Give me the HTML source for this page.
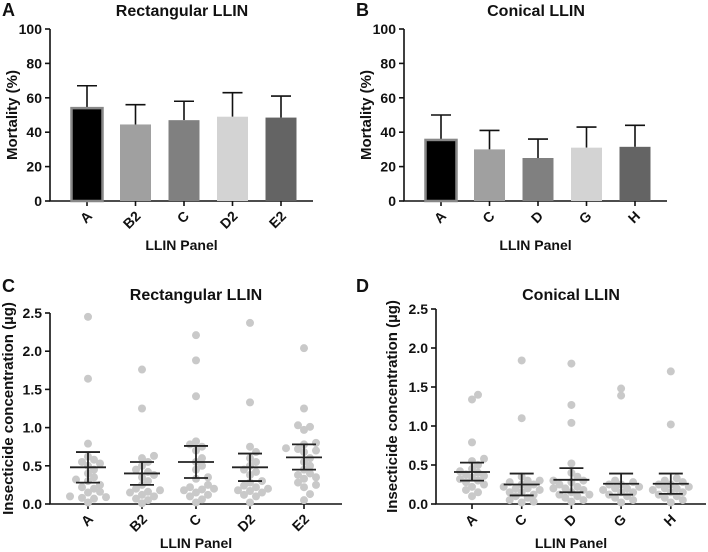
<!DOCTYPE html>
<html><head><meta charset="utf-8"><style>
body{margin:0;background:#fff;}
svg{display:block;font-family:"Liberation Sans",Arial,sans-serif;font-weight:bold;}
</style></head><body>
<svg id="fig" width="708" height="552" viewBox="0 0 708 552"></svg>
<script>
// Panel A data
const catsA=["A","B2","C","D2","E2"];
const meanA=[54,44.5,47,49,48.5];
const errA=[67,56,58,63,61];
// Panel B data
const catsB=["A","C","D","G","H"];
const meanB=[35.5,30,25,31,31.5];
const errB=[50,41,36,43,44];
const barTicks=[0,20,40,60,80,100];
// Panel C data
const catsC=["A","B2","C","D2","E2"];
const ptsC=[
[2.45,1.64,0.79,0.62,0.58,0.55,0.53,0.5,0.45,0.4,0.35,0.32,0.3,0.25,0.22,0.2,0.16,0.15,0.1,0.09,0.08,0.07,0.02],
[1.76,1.25,0.63,0.6,0.55,0.5,0.45,0.42,0.38,0.35,0.3,0.25,0.2,0.18,0.16,0.15,0.12,0.1,0.07,0.05,0.01],
[2.21,1.88,1.41,0.82,0.78,0.75,0.7,0.6,0.55,0.5,0.45,0.35,0.33,0.25,0.22,0.2,0.19,0.18,0.15,0.12,0.1,0.06,0.02],
[2.37,1.33,0.75,0.68,0.6,0.55,0.5,0.45,0.42,0.38,0.3,0.28,0.24,0.22,0.2,0.18,0.17,0.15,0.12,0.1,0.02],
[2.04,1.25,1.03,1.01,0.97,0.8,0.78,0.73,0.72,0.7,0.68,0.6,0.55,0.5,0.45,0.4,0.38,0.35,0.33,0.28,0.25,0.22,0.13,0.05]];
const meanC=[0.48,0.40,0.55,0.48,0.61];
const loC=[0.28,0.25,0.34,0.30,0.45];
const hiC=[0.68,0.55,0.76,0.66,0.78];
// Panel D data
const catsD=["A","C","D","G","H"];
const ptsD=[
[1.4,1.34,0.79,0.58,0.55,0.5,0.45,0.42,0.4,0.38,0.36,0.34,0.32,0.3,0.28,0.25,0.22,0.18,0.15,0.1],
[1.84,1.1,0.35,0.3,0.3,0.28,0.25,0.25,0.22,0.2,0.2,0.18,0.15,0.15,0.12,0.1,0.08,0.05,0.03,0.02],
[1.8,1.27,1.04,0.52,0.4,0.35,0.3,0.3,0.28,0.25,0.22,0.2,0.2,0.18,0.15,0.12,0.12,0.1,0.08,0.05,0.03],
[1.48,1.39,0.3,0.28,0.25,0.25,0.22,0.2,0.2,0.18,0.15,0.15,0.12,0.1,0.08,0.05,0.02],
[1.7,1.02,0.33,0.3,0.28,0.25,0.25,0.22,0.2,0.2,0.18,0.15,0.15,0.12,0.1,0.08,0.05,0.02]];
const meanD=[0.41,0.25,0.31,0.26,0.26];
const loD=[0.30,0.11,0.15,0.12,0.13];
const hiD=[0.53,0.39,0.46,0.39,0.39];
const concTicks=["0.0","0.5","1.0","1.5","2.0","2.5"];

const barColors=["#000","#a0a0a0","#808080","#d3d3d3","#646464"];
const svg=document.getElementById('fig');
const NS="http://www.w3.org/2000/svg";
function mk(tag,at,parent,txt){const e=document.createElementNS(NS,tag);for(const k in at)e.setAttribute(k,at[k]);if(txt!==undefined)e.textContent=txt;(parent||svg).appendChild(e);return e;}

function axes(g,cfg){
  const {x0,x1,y0,y1,ticks,tickVals,ymax,cats,cx,title,ytitle,letter,ox,titleX,ytx,ly,ty,xty,ytSize}=cfg;
  const ys=v=>y0-(v/ymax)*(y0-y1);
  let l=mk('text',{x:ox+2,y:ly,'font-size':18,fill:'#111'},g,letter);
  
  let t=mk('text',{x:titleX,y:ty,'font-size':16,'text-anchor':'middle',fill:'#111'},g,title);
  
  let ax=mk('path',{d:`M${x0},${y1}V${y0}H${x1}`,stroke:'#111','stroke-width':1.6,fill:'none'},g);
  
  ticks.forEach((lab,i)=>{const y=ys(tickVals[i]);
    mk('line',{x1:x0-5,x2:x0,y1:y,y2:y,stroke:'#111','stroke-width':1.6},g);
    let tt=mk('text',{x:x0-8,y:y+5,'font-size':14,'text-anchor':'end',fill:'#111'},g,lab);
    });
  cats.forEach((c,i)=>{const x=cx(i);
    mk('line',{x1:x,x2:x,y1:y0,y2:y0+5,stroke:'#111','stroke-width':1.6},g);
    const ax_=x+6,ay=y0+16;
    let tt=mk('text',{x:ax_,y:ay,'font-size':14,'text-anchor':'end',fill:'#111',transform:`rotate(-45 ${ax_} ${ay})`},g,c);
    });
  let xt=mk('text',{x:(x0+x1)/2,y:xty,'font-size':14,'text-anchor':'middle',fill:'#111'},g,'LLIN Panel');
  
  let yt=mk('text',{x:0,y:0,'font-size':ytSize,'text-anchor':'middle',fill:'#111',transform:`translate(${ytx},${(y0+y1)/2}) rotate(-90)`},g,ytitle);
  
  return ys;
}

function barPanel(ox,cats,means,errs,letter,title){
  const g=mk('g',{},svg);
  
  const x0=ox+50,x1=ox+313,y0=201,y1=29;
  const cx=i=>ox+87+i*48.5;
  const ys=axes(g,{x0,x1,y0,y1,ticks:barTicks.map(String),tickVals:barTicks,ymax:100,cats,cx,title,ytitle:'Mortality (%)',letter,ox,titleX:ox+182,ytx:ox+17,ly:16,ty:16,xty:250,ytSize:15});
  means.forEach((m,i)=>{const x=cx(i),w=31;
    let e=mk('path',{d:`M${x},${ys(m)}V${ys(errs[i])}M${x-10},${ys(errs[i])}H${x+10}`,stroke:'#111','stroke-width':1.6,fill:'none'},g);
    
    let b=mk('rect',{x:x-w/2,y:ys(m),width:w,height:y0-ys(m),fill:barColors[i],stroke:i==0?'#888':'none','stroke-width':i==0?2.5:0},g);
    
  });
}

function scatterPanel(ox,cats,pts,means,lo,hi,letter,title,x0,x1,y1,cx0,step,ytx){
  const g=mk('g',{},svg);
  
  const y0=504;
  const cx=i=>cx0+i*step;
  const ys=axes(g,{x0,x1,y0,y1,ticks:concTicks,tickVals:concTicks.map(Number),ymax:2.5,cats,cx,title,ytitle:'Insecticide concentration (\u00b5g)',letter,ox,titleX:(x0+x1)/2,ytx,ly:292,ty:300,xty:548,ytSize:15});
  pts.forEach((arr,i)=>{const placed=[];const r=4,d=6.5;
    arr.slice().sort((a,b)=>a-b).forEach(v=>{const y=ys(v);let off=0;
      const cands=[0];for(let k=1;k<5;k++){cands.push(k*6,-k*6);}
      let best=0,bestD=-1;
      for(const c of cands){const md=placed.length?Math.min(...placed.map(p=>Math.hypot(p[0]-c,p[1]-y))):99;
        if(md>=d){best=c;bestD=md;break;} if(md>bestD){bestD=md;best=c;}}
      off=best;
      placed.push([off,y]);
      let c=mk('circle',{cx:cx(i)+off,cy:y,r:r,fill:'#c9c9c9'},g);
      });
    const x=cx(i);
    let e=mk('path',{d:`M${x},${ys(lo[i])}V${ys(hi[i])}M${x-12},${ys(lo[i])}H${x+12}M${x-12},${ys(hi[i])}H${x+12}M${x-18},${ys(means[i])}H${x+18}`,stroke:'#222','stroke-width':1.8,fill:'none'},g);
    
  });
}

barPanel(0,catsA,meanA,errA,'A','Rectangular LLIN');
barPanel(354,catsB,meanB,errB,'B','Conical LLIN');
scatterPanel(0,catsC,ptsC,meanC,loC,hiC,'C','Rectangular LLIN',50,342,313,88,54,13);
scatterPanel(354,catsD,ptsD,meanD,loD,hiD,'D','Conical LLIN',436,706,309,472,49.7,397);
</script>
</body></html>
